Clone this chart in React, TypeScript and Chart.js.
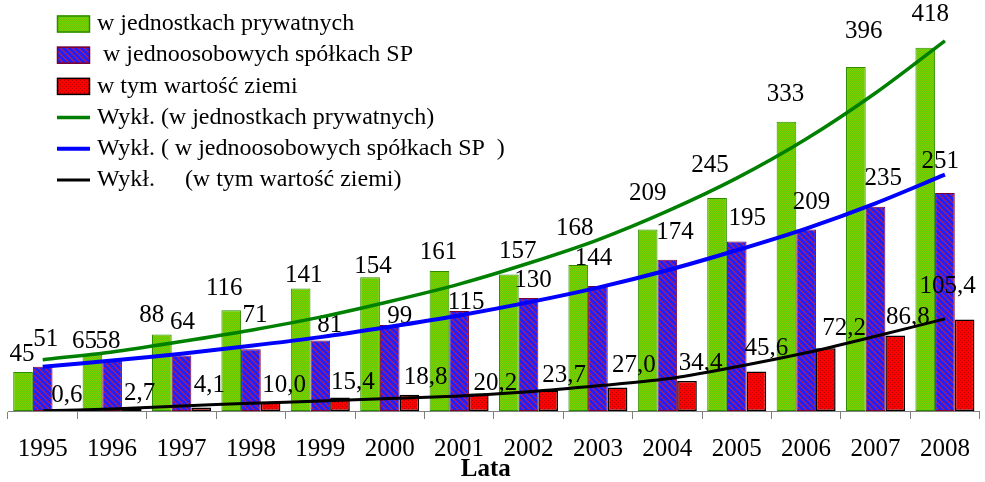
import React, { useEffect, useRef } from 'react';
import { Chart, registerables } from 'chart.js';

Chart.register(...registerables);

// ---- data ----
const years = ['1995', '1996', '1997', '1998', '1999', '2000', '2001', '2002', '2003', '2004', '2005', '2006', '2007', '2008'];
const privateUnits = [45, 65, 88, 116, 141, 154, 161, 157, 168, 209, 245, 333, 396, 418];
const spCompanies = [51, 58, 64, 71, 81, 99, 115, 130, 144, 174, 195, 209, 235, 251];
const landValue = [0.6, 2.7, 4.1, 10.0, 15.4, 18.8, 20.2, 23.7, 27.0, 34.4, 45.6, 72.2, 86.8, 105.4];
// exponential trend lines at each year
const trendPrivate = [59, 68, 80, 93, 108, 126, 146, 170, 197, 230, 268, 313, 366, 426];
const trendSp = [51, 58, 66, 75, 85, 97, 110, 125, 142, 162, 185, 210, 239, 272];
const trendLand = [0.2, 2.3, 5.8, 8.9, 11.5, 14.4, 17.3, 22.2, 29, 37, 51, 67, 86, 106];

const seriesNames = [
  'w jednostkach prywatnych',
  ' w jednoosobowych spółkach SP',
  'w tym wartość ziemi',
  'Wykł. (w jednostkach prywatnych)',
  'Wykł. ( w jednoosobowych spółkach SP  )',
  'Wykł.     (w tym wartość ziemi)',
];
const axisTitle = 'Lata';

// label nudges (dx, lift above bar top) – the labels were placed by hand in the original
const nudgePrivate = [[-1, 17], [-8, 13], [-10, 19.5], [-7, 22], [3, 13.5], [3, 11], [-1, 19], [9, 23], [-3.5, 37], [0, 36], [-7, 33], [-1, 27], [8, 35], [5, 33]];
const nudgeSp = [[3, 27], [-4, 19], [1, 33], [4, 34], [9.5, 15.5], [10, 8.5], [7, 9], [4.5, 18], [-4.5, 27.5], [7.7, 27.3], [10.6, 23], [5.5, 27.4], [7.8, 28.3], [-4.8, 31]];
const nudgeLand = [[4.4, 15.5], [7.8, 15.7], [8.2, 22.4], [13.5, 17.3], [12.9, 15.6], [16.2, 17.7], [16.6, 10.4], [16, 15.4], [16.3, 22.5], [13.7, 18], [10, 23.4], [18.4, 20.3], [12.7, 18.6], [-17, 32.7]];

const SERIF = "'Liberation Serif', 'Times New Roman', serif";

function makePattern(size: number, paint: (c: CanvasRenderingContext2D) => void): CanvasPattern {
  const cv = document.createElement('canvas');
  cv.width = size;
  cv.height = size;
  const c = cv.getContext('2d')!;
  paint(c);
  return c.createPattern(cv, 'repeat')!;
}

export default function App() {
  const ref = useRef<HTMLCanvasElement>(null);

  useEffect(() => {
    if (!ref.current) return;

    const greenPat = makePattern(2, (c) => {
      c.fillStyle = '#58cc00';
      c.fillRect(0, 0, 2, 2);
      c.fillStyle = '#88cc00';
      c.fillRect(0, 0, 1, 1);
      c.fillRect(1, 1, 1, 1);
    });
    const bluePat = makePattern(6, (c) => {
      c.fillStyle = '#2020ff';
      c.fillRect(0, 0, 6, 6);
      c.fillStyle = '#a01c6c';
      for (let y = 0; y < 6; y++) {
        for (let x = 0; x < 6; x++) {
          const d = (((x - y) % 6) + 6) % 6;
          if (d === 0 || d === 1) c.fillRect(x, y, 1, 1);
        }
      }
    });
    const redPat = makePattern(4, (c) => {
      c.fillStyle = '#ff0000';
      c.fillRect(0, 0, 4, 4);
      c.fillStyle = '#b80000';
      c.fillRect(0, 0, 1, 1);
      c.fillRect(2, 2, 1, 1);
    });

    const fmtLand = (v: number) => v.toFixed(1).replace('.', ',');

    const labelPlugin = {
      id: 'valueLabels',
      afterDatasetDraw(chart: any, args: any) {
        if (args.index !== 0) return;
        const ctx = chart.ctx as CanvasRenderingContext2D;
        ctx.save();
        ctx.font = `25px ${SERIF}`;
        ctx.fillStyle = '#000';
        ctx.textAlign = 'center';
        ctx.textBaseline = 'middle';
        const groups = [
          { ds: 0, vals: privateUnits, nudge: nudgePrivate, fmt: (v: number) => String(v) },
          { ds: 1, vals: spCompanies, nudge: nudgeSp, fmt: (v: number) => String(v) },
          { ds: 2, vals: landValue, nudge: nudgeLand, fmt: fmtLand },
        ];
        groups.forEach((g) => {
          const meta = chart.getDatasetMeta(g.ds);
          meta.data.forEach((bar: any, i: number) => {
            const [dx, dy] = g.nudge[i];
            ctx.fillText(g.fmt(g.vals[i]), bar.x + dx, bar.y - dy);
          });
        });
        ctx.restore();
      },
    };

    const legendPlugin = {
      id: 'customLegend',
      afterDraw(chart: any) {
        const ctx = chart.ctx as CanvasRenderingContext2D;
        ctx.save();
        const x0 = 57;
        const w = 33;
        const textX = 97;
        const top = 24;
        const step = 31.2;
        ctx.font = `24px ${SERIF}`;
        ctx.textAlign = 'left';
        ctx.textBaseline = 'middle';
        chart.data.datasets.forEach((ds: any, i: number) => {
          const cy = top + step * i;
          if (ds.type === 'line') {
            ctx.strokeStyle = ds.borderColor;
            ctx.lineWidth = ds.borderWidth;
            ctx.lineCap = 'butt';
            ctx.beginPath();
            ctx.moveTo(x0, cy);
            ctx.lineTo(x0 + w, cy);
            ctx.stroke();
          } else {
            ctx.fillStyle = ds.backgroundColor;
            ctx.fillRect(x0, cy - 8.5, w, 17);
            ctx.strokeStyle = ds.borderColor;
            ctx.lineWidth = 1.5;
            ctx.strokeRect(x0 + 0.5, cy - 8, w - 1, 16);
          }
          ctx.fillStyle = '#000';
          ctx.fillText(ds.label, textX, cy);
        });
        // x-axis title (sits slightly left of centre in the original)
        const area = chart.chartArea;
        ctx.font = `bold 25px ${SERIF}`;
        ctx.textAlign = 'center';
        ctx.fillText(axisTitle, (area.left + area.right) / 2 - 8, 470);
        ctx.restore();
      },
    };

    const chart = new Chart(ref.current, {
      type: 'bar',
      data: {
        labels: years,
        datasets: [
          { type: 'bar', label: seriesNames[0], data: privateUnits, backgroundColor: greenPat, borderColor: '#2e8b00', borderWidth: 1, borderSkipped: false, order: 1 },
          { type: 'bar', label: seriesNames[1], data: spCompanies, backgroundColor: bluePat, borderColor: '#7a0030', borderWidth: 1, borderSkipped: false, order: 1 },
          { type: 'bar', label: seriesNames[2], data: landValue, backgroundColor: redPat, borderColor: '#000000', borderWidth: 1.5, borderSkipped: false, order: 1 },
          { type: 'line', label: seriesNames[3], data: trendPrivate, borderColor: '#008000', borderWidth: 3.5, pointRadius: 0, tension: 0.3, fill: false, order: 0 },
          { type: 'line', label: seriesNames[4], data: trendSp, borderColor: '#0000ff', borderWidth: 4, pointRadius: 0, tension: 0.3, fill: false, order: 0 },
          { type: 'line', label: seriesNames[5], data: trendLand, borderColor: '#000000', borderWidth: 3, pointRadius: 0, tension: 0.3, fill: false, order: 0 },
        ] as any,
      },
      options: {
        animation: false,
        responsive: false,
        devicePixelRatio: 1,
        layout: { padding: { left: 8, right: 2, top: 0, bottom: 0 } },
        datasets: { bar: { barPercentage: 1, categoryPercentage: 0.85 } },
        plugins: { legend: { display: false }, tooltip: { enabled: false } },
        scales: {
          x: {
            offset: true,
            grid: { display: true, drawOnChartArea: false, drawTicks: true, tickLength: 8, color: '#808080', lineWidth: 1, offset: true },
            border: { display: true, color: '#808080', width: 1 },
            ticks: { color: '#000', font: { family: SERIF, size: 25 }, padding: 15, maxRotation: 0, autoSkip: false },
            title: { display: false },
            afterFit: (s: any) => { s.height = 71; },
          },
          y: { display: false, min: 0, max: 473 },
        },
      } as any,
      plugins: [labelPlugin, legendPlugin],
    });

    return () => chart.destroy();
  }, []);

  return (
    <div style={{ position: 'absolute', left: 0, top: 0, width: 985, height: 482, background: '#fff' }}>
      <canvas ref={ref} width={985} height={482} style={{ display: 'block', width: 985, height: 482 }} />
    </div>
  );
}
